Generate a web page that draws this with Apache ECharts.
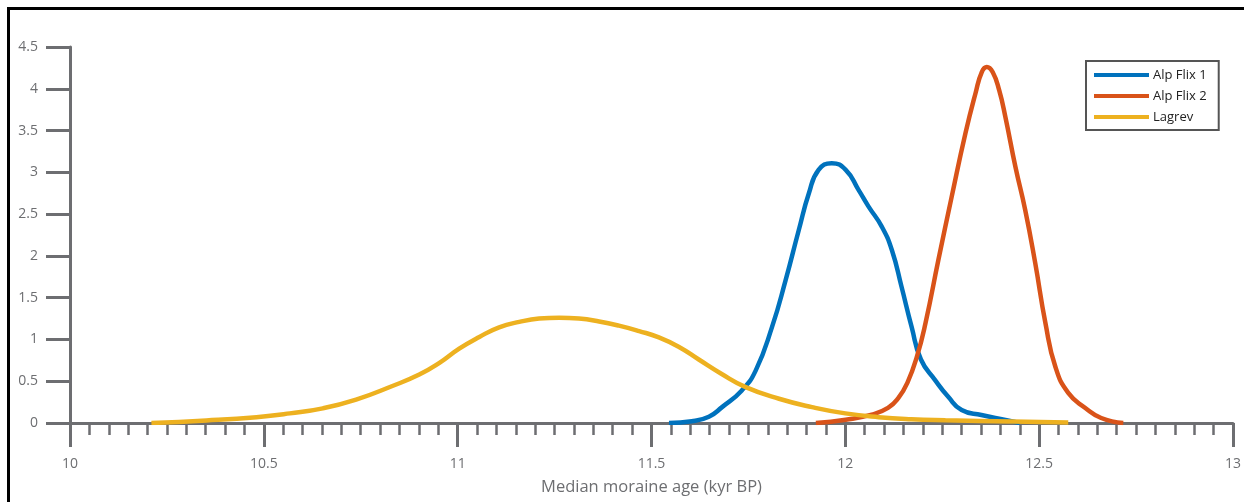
<!DOCTYPE html>
<html>
<head>
<meta charset="utf-8">
<title>Median moraine age</title>
<script src="https://cdn.jsdelivr.net/npm/echarts@6.0.0/dist/echarts.min.js"></script>
<style>
	html, body { margin: 0; padding: 0; background: #fff; }
	#container { width: 1244px; height: 502px; }
</style>
</head>
<body>
<div id="container"></div>
<script>
	// 数据 (kyr BP / 概率密度)
	var alpFlix1Age = [11.545, 11.604, 11.648, 11.682, 11.733, 11.769, 11.811, 11.846, 11.880, 11.906, 11.931, 11.965, 12.001, 12.034, 12.060, 12.094, 12.120, 12.145, 12.171, 12.195, 12.232, 12.266, 12.300, 12.351, 12.413, 12.450];
	var alpFlix1Density = [0, 0.02, 0.075, 0.19, 0.39, 0.63, 1.15, 1.71, 2.31, 2.75, 3.03, 3.11, 3.03, 2.79, 2.59, 2.35, 2.07, 1.63, 1.15, 0.76, 0.51, 0.31, 0.155, 0.095, 0.036, 0];

	var alpFlix2Age = [11.924, 12.001, 12.068, 12.110, 12.137, 12.160, 12.185, 12.207, 12.240, 12.274, 12.310, 12.336, 12.352, 12.365, 12.380, 12.397, 12.413, 12.439, 12.464, 12.490, 12.516, 12.542, 12.575, 12.619, 12.660, 12.717];
	var alpFlix2Density = [0, 0.04, 0.10, 0.18, 0.30, 0.48, 0.80, 1.20, 1.95, 2.70, 3.47, 3.95, 4.20, 4.26, 4.20, 3.98, 3.66, 3.06, 2.55, 1.91, 1.20, 0.67, 0.36, 0.18, 0.06, 0];

	var lagrevAge = [10.210, 10.352, 10.481, 10.567, 10.652, 10.738, 10.830, 10.901, 10.953, 11.004, 11.056, 11.107, 11.159, 11.210, 11.262, 11.313, 11.365, 11.416, 11.468, 11.519, 11.571, 11.622, 11.680, 11.743, 11.829, 11.914, 12.000, 12.086, 12.170, 12.258, 12.430, 12.575];
	var lagrevDensity = [0, 0.03, 0.07, 0.115, 0.175, 0.28, 0.44, 0.58, 0.72, 0.89, 1.03, 1.145, 1.21, 1.25, 1.26, 1.25, 1.215, 1.165, 1.10, 1.025, 0.91, 0.76, 0.59, 0.43, 0.29, 0.19, 0.115, 0.07, 0.045, 0.033, 0.018, 0.005];

	var seriesNames = ['Alp Flix 1', 'Alp Flix 2', 'Lagrev'];
	var seriesColors = ['#0072bd', '#d95319', '#edb120'];

	var axisColor = '#6d6e71';
	var fontName = '"Open Sans", "Noto Sans", sans-serif';

	function toPairs(xs, ys) {
		var out = [];
		for (var i = 0; i < xs.length; i++) {
			out.push([xs[i], ys[i]]);
		}
		return out;
	}

	function makeSeries(name, color, xs, ys) {
		return {
			name : name,
			type : 'line',
			smooth : 0.5,
			showSymbol : false,
			symbol : 'none',
			animation : false,
			lineStyle : { color : color, width : 4.5 },
			itemStyle : { color : color },
			data : toPairs(xs, ys)
		};
	}

	var myChart = echarts.init(document.getElementById('container'));

	myChart.setOption({
		animation : false,
		textStyle : { fontFamily : fontName },
		grid : {
			left : 70,
			right : 7,
			top : 47,
			bottom : 79
		},
		// 外框
		graphic : [ {
			type : 'rect',
			shape : { x : 8.5, y : 8.5, width : 1260, height : 520 },
			style : { fill : 'none', stroke : '#000', lineWidth : 3 },
			silent : true
		} ],
		legend : {
			orient : 'vertical',
			left : 1086,
			top : 61,
			padding : [7, 12, 6, 8],
			borderColor : '#555',
			borderWidth : 2,
			icon : 'rect',
			itemWidth : 55,
			itemHeight : 4,
			itemGap : 7,
			data : seriesNames,
			textStyle : {
				fontFamily : fontName,
				fontSize : 13,
				lineHeight : 14,
				color : '#222',
				padding : [0, 0, 0, -1]
			}
		},
		xAxis : {
			type : 'value',
			min : 10,
			max : 13,
			interval : 0.5,
			name : 'Median moraine age (kyr BP)',
			nameLocation : 'middle',
			nameGap : 56,
			nameTextStyle : { fontFamily : fontName, fontSize : 16.5, color : axisColor },
			axisLine : { lineStyle : { color : axisColor, width : 3 } },
			axisTick : { show : true, inside : false, length : 24, lineStyle : { color : axisColor, width : 3 } },
			minorTick : { show : true, splitNumber : 10, length : 12, lineStyle : { color : axisColor, width : 2.5 } },
			axisLabel : {
				margin : 34,
				fontFamily : fontName,
				fontSize : 14,
				color : axisColor,
				showMinLabel : true,
				showMaxLabel : true
			},
			splitLine : { show : false },
			minorSplitLine : { show : false }
		},
		yAxis : {
			type : 'value',
			min : 0,
			max : 4.5,
			interval : 0.5,
			axisLine : { show : true, lineStyle : { color : axisColor, width : 3 } },
			axisTick : { show : true, inside : false, length : 24, lineStyle : { color : axisColor, width : 3 } },
			axisLabel : {
				margin : 32,
				fontFamily : fontName,
				fontSize : 14,
				color : axisColor
			},
			splitLine : { show : false }
		},
		series : [
			makeSeries(seriesNames[0], seriesColors[0], alpFlix1Age, alpFlix1Density),
			makeSeries(seriesNames[1], seriesColors[1], alpFlix2Age, alpFlix2Density),
			makeSeries(seriesNames[2], seriesColors[2], lagrevAge, lagrevDensity)
		]
	});

	window.addEventListener('resize', function() {
		myChart.resize();
	});
</script>
</body>
</html>
